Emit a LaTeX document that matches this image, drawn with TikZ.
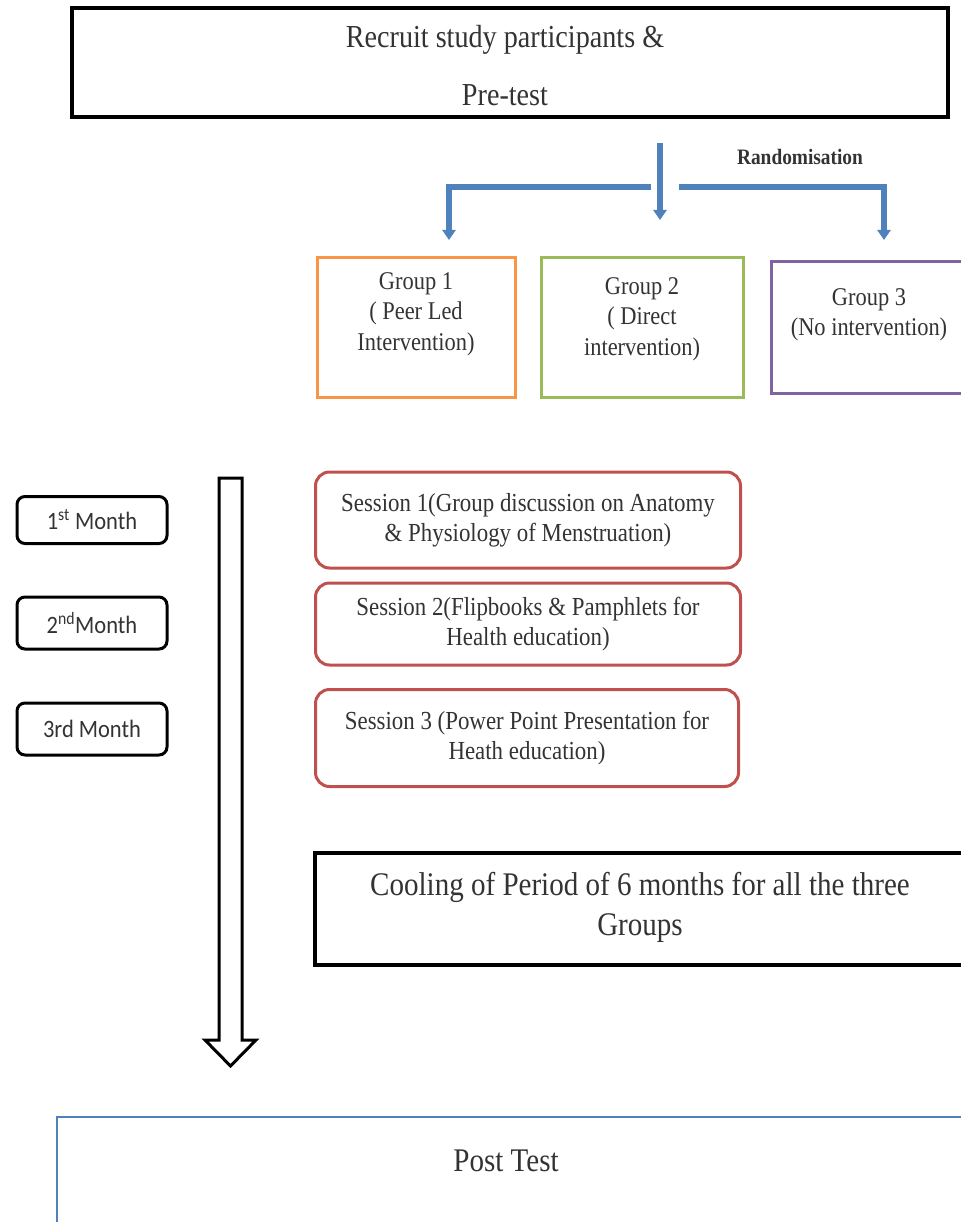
\documentclass[tikz,border=0pt]{standalone}
\usepackage{fontspec}
\setmainfont[FakeStretch=0.88]{Liberation Serif}
\newfontfamily\calfont[FakeStretch=0.9]{Carlito}
\usetikzlibrary{arrows.meta}
\definecolor{oblue}{HTML}{4F81BD}
\definecolor{oorange}{HTML}{F79646}
\definecolor{ogreen}{HTML}{9BBB59}
\definecolor{opurple}{HTML}{8064A2}
\definecolor{ored}{HTML}{C0504D}
\definecolor{txt}{HTML}{333333}
\tikzset{
  bigbox/.style={draw=black, line width=3.5pt, text=txt},
  grpbox/.style={line width=3pt, text=txt, align=center, font=\fontsize{25.5}{30.5}\selectfont},
  sessbox/.style={draw=ored, line width=3pt, rounded corners=14pt, text=txt, align=center, font=\fontsize{26}{30}\selectfont},
  monthbox/.style={draw=black, line width=3pt, rounded corners=8pt, text=txt, font=\calfont\fontsize{25}{28}\selectfont},
  bluearrow/.style={draw=oblue, line width=6pt, -{Triangle[width=13pt,length=10pt]}},
}
\begin{document}
\begin{tikzpicture}[x=1pt,y=-1pt]
\useasboundingbox (0,0) rectangle (960,1222);
% top box
\draw[bigbox] (72,8) rectangle (948,117);
\node[text=txt, font=\fontsize{32}{36}\selectfont] (rec) at (505,40) {Recruit study participants \&};
\node[text=txt, font=\fontsize{32}{36}\selectfont] (pre) at (505,95) {Pre-test};
% randomisation
\coordinate (rA) at (660,143);
\coordinate (rB) at (660,220);
\coordinate (lA) at (651,187);
\coordinate (lB) at (449,187);
\coordinate (lC) at (449,240);
\coordinate (kA) at (679,187);
\coordinate (kB) at (884,187);
\coordinate (kC) at (884,240);
\draw[bluearrow] (rA) -- (rB);
\draw[bluearrow] (lA) -- (lB) -- (lC);
\draw[bluearrow] (kA) -- (kB) -- (kC);
\node[font=\bfseries\fontsize{22}{24}\selectfont, text=txt] (rand) at (800,157) {Randomisation};
% groups
\draw[grpbox, draw=oorange] (317,258) rectangle (515,397);
\node[grpbox] (g1) at (416,314) {Group 1\\( Peer Led\\Intervention)};
\draw[grpbox, draw=ogreen] (541,258) rectangle (743,397);
\node[grpbox] (g2) at (642,319) {Group 2\\( Direct\\intervention)};
\draw[grpbox, draw=opurple] (771,262) rectangle (975,393);
\node[grpbox] (g3) at (869,315) {Group 3\\(No intervention)};
% months
\node[monthbox, minimum width=150pt, minimum height=47pt] (m1) at (92,520) {1\textsuperscript{st} Month};
\node[monthbox, minimum width=150pt, minimum height=52pt] (m2) at (92,623) {2\textsuperscript{nd}Month};
\node[monthbox, minimum width=150pt, minimum height=52pt] (m3) at (92,729) {3rd Month};
% hollow arrow
\draw[line width=3pt, line join=miter, fill=white] (219,478) -- (242,478) -- (242,1040) -- (256,1040) -- (230.5,1066) -- (205,1040) -- (219,1040) -- cycle;
% sessions
\node[sessbox, minimum width=425pt, minimum height=96pt] (s1) at (528,520) {Session 1(Group discussion on Anatomy\\\& Physiology of Menstruation)};
\node[sessbox, minimum width=425pt, minimum height=82pt] (s2) at (528,624) {Session 2(Flipbooks \& Pamphlets for\\Health education)};
\node[sessbox, minimum width=423pt, minimum height=97pt] (s3) at (527,738) {Session 3 (Power Point Presentation for\\Heath education)};
% cooling
\draw[bigbox] (315,853) rectangle (975,965);
\node[text=txt, align=center, font=\fontsize{33}{40}\selectfont] (cool) at (640,907) {Cooling of Period of 6 months for all the three\\Groups};
% post test
\draw[draw=oblue, line width=2pt] (975,1117) -- (57,1117) -- (57,1235);
\node[text=txt, font=\fontsize{33}{36}\selectfont] (post) at (506,1161) {Post Test};
\end{tikzpicture}
\end{document}
